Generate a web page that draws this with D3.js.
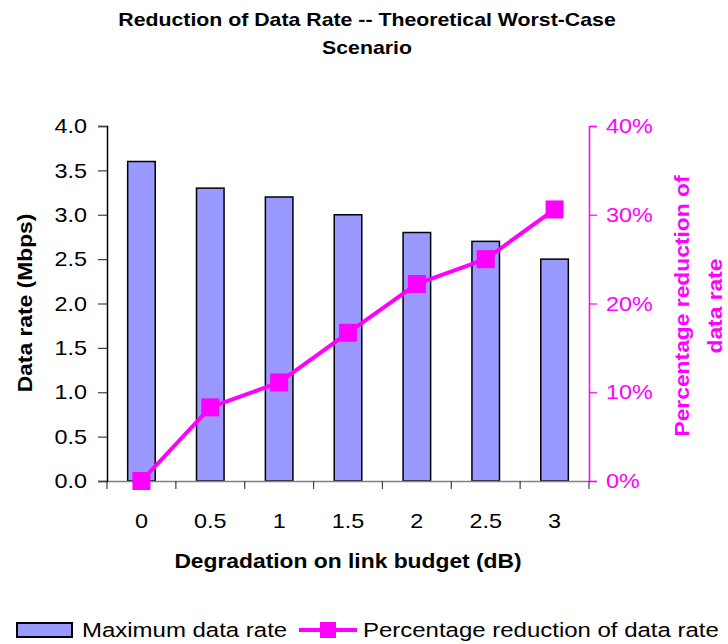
<!DOCTYPE html>
<html>
<head>
<meta charset="utf-8">
<script src="https://cdn.jsdelivr.net/npm/d3@7"></script>
<style>
  html, body { margin: 0; padding: 0; background: #fff; }
  svg { display: block; }
  text { font-family: "Liberation Sans", Arial, sans-serif; }
</style>
</head>
<body>
<svg id="chart" width="728" height="644"></svg>
<script>
// ---- data ----
const categories = ["0", "0.5", "1", "1.5", "2", "2.5", "3"];
const maxDataRate = [3.6, 3.3, 3.2, 3.0, 2.8, 2.7, 2.5];
const pctReduction = [0, 8.3, 11.1, 16.7, 22.2, 25.0, 30.6];
const leftTicks = [0, 0.5, 1.0, 1.5, 2.0, 2.5, 3.0, 3.5, 4.0];
const rightTicks = [0, 10, 20, 30, 40];
const titleLines = ["Reduction of Data Rate -- Theoretical Worst-Case", "Scenario"];
const rightTitleLines = ["Percentage reduction of", "data rate"];

// ---- layout ----
const W = 728, H = 644;
const plot = { left: 107, right: 589, top: 126, bottom: 481 };
const SX = 1.17;
const MAGENTA = "#FF00FF";
const BAR = "#9999FF";

const svg = d3.select("#chart");

const x = d3.scaleBand().domain(categories).range([plot.left, plot.right]).paddingInner(0.6).paddingOuter(0.3);
const xOuter = d3.scaleBand().domain(categories).range([plot.left, plot.right]).padding(0);
const yL = d3.scaleLinear().domain([0, 4]).range([plot.bottom, plot.top]);
const yR = d3.scaleLinear().domain([0, 40]).range([plot.bottom, plot.top]);

function label(g, tx, ty, str, o = {}) {
  const rot = o.rotate ? ` rotate(${o.rotate})` : "";
  return g.append("text")
    .attr("transform", `translate(${tx},${ty})${rot} scale(${SX},1)`)
    .attr("text-anchor", o.anchor || "start")
    .attr("font-size", o.size || 20)
    .attr("font-weight", o.bold ? "bold" : "normal")
    .attr("fill", o.fill || "#000")
    .attr("dy", o.dy || 0)
    .text(str);
}

// ---- title ----
titleLines.forEach((t, i) => label(svg, 367, 26 + i * 28, t, { anchor: "middle", size: 18.2, bold: true }));

// ---- bars ----
svg.append("g").selectAll("rect").data(maxDataRate).join("rect")
  .attr("x", (d, i) => x(categories[i]))
  .attr("y", d => yL(d))
  .attr("width", x.bandwidth())
  .attr("height", d => yL(0) - yL(d))
  .attr("fill", BAR)
  .attr("stroke", "#000")
  .attr("stroke-width", 1.5);

// ---- x axis baseline + ticks ----
const xAxis = d3.axisBottom(xOuter).tickSize(0).tickFormat("");
const gx = svg.append("g").attr("transform", `translate(0,${plot.bottom})`).call(xAxis);
gx.select(".domain").attr("stroke", "#808080").attr("stroke-width", 1.5);
const boundaries = categories.map(c => xOuter(c)).concat([plot.right]);
gx.selectAll("line.bnd").data(boundaries).join("line")
  .attr("class", "bnd")
  .attr("x1", d => d).attr("x2", d => d)
  .attr("y1", 0).attr("y2", 8)
  .attr("stroke", "#404040").attr("stroke-width", 1.2);
categories.forEach(c => label(svg, xOuter(c) + xOuter.bandwidth() / 2, 528, c, { anchor: "middle" }));

// ---- left axis ----
const gl = svg.append("g").attr("transform", `translate(${plot.left},0)`)
  .call(d3.axisLeft(yL).tickValues(leftTicks).tickSize(9).tickFormat(""));
gl.select(".domain").attr("stroke", "#000").attr("stroke-width", 1.5);
gl.selectAll(".tick line").attr("stroke", "#404040").attr("stroke-width", 1.2);
leftTicks.forEach(v => label(svg, 87, yL(v), d3.format(".1f")(v), { anchor: "end", dy: "0.36em" }));

// ---- right axis ----
const gr = svg.append("g").attr("transform", `translate(${plot.right},0)`)
  .call(d3.axisRight(yR).tickValues(rightTicks).tickSize(8).tickFormat(""));
gr.select(".domain").attr("stroke", MAGENTA).attr("stroke-width", 1.5);
gr.selectAll(".tick line").attr("stroke", MAGENTA).attr("stroke-width", 1.2);
rightTicks.forEach(v => label(svg, 606, yR(v), v + "%", { fill: MAGENTA, dy: "0.36em" }));

// ---- line + markers ----
const cx = i => xOuter(categories[i]) + xOuter.bandwidth() / 2;
const line = d3.line().x((d, i) => cx(i)).y(d => yR(d));
svg.append("path").datum(pctReduction)
  .attr("d", line).attr("fill", "none")
  .attr("stroke", MAGENTA).attr("stroke-width", 4).attr("stroke-linejoin", "round");
const MS = 18;
svg.append("g").selectAll("rect").data(pctReduction).join("rect")
  .attr("x", (d, i) => cx(i) - MS / 2)
  .attr("y", d => yR(d) - MS / 2)
  .attr("width", MS).attr("height", MS)
  .attr("fill", MAGENTA);

// ---- axis titles ----
label(svg, 32, 303, "Data rate (Mbps)", { anchor: "middle", size: 19.5, bold: true, rotate: -90 });
label(svg, (plot.left + plot.right) / 2, 568, "Degradation on link budget (dB)", { anchor: "middle", size: 19.5, bold: true });
rightTitleLines.forEach((t, i) => label(svg, 689 + i * 33, 306, t, { anchor: "middle", size: 19.5, bold: true, rotate: -90, fill: MAGENTA }));

// ---- legend ----
const lg = svg.append("g");
lg.append("rect").attr("x", 17).attr("y", 623).attr("width", 55).attr("height", 14)
  .attr("fill", BAR).attr("stroke", "#000").attr("stroke-width", 2);
label(lg, 82, 637, "Maximum data rate", { size: 20.5 });
lg.append("line").attr("x1", 299).attr("x2", 357).attr("y1", 630).attr("y2", 630)
  .attr("stroke", MAGENTA).attr("stroke-width", 4);
lg.append("rect").attr("x", 328 - 8).attr("y", 630 - 8).attr("width", 16).attr("height", 16).attr("fill", MAGENTA);
label(lg, 363, 637, "Percentage reduction of data rate", { size: 20.5 });
</script>
</body>
</html>
